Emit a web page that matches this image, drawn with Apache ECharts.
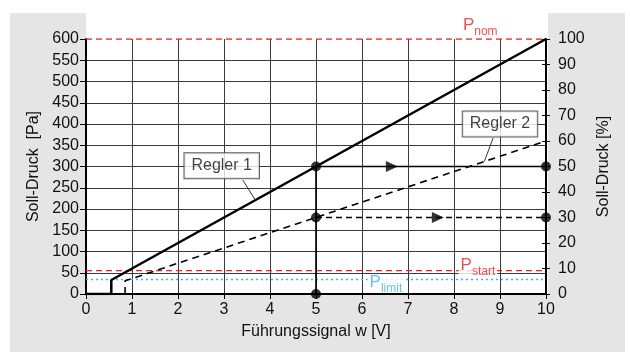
<!DOCTYPE html>
<html>
<head>
<meta charset="utf-8">
<script src="https://cdn.jsdelivr.net/npm/echarts@6/dist/echarts.min.js"></script>
<style>
  html, body { margin: 0; padding: 0; background: #ffffff; }
  #frame { position: absolute; left: 10px; top: 13px; width: 615px; height: 339px; background: #e5e5e5; }
  #plotbg { position: absolute; left: 86px; top: 13px; width: 462px; height: 281px; background: #ffffff; }
  #chart { position: absolute; left: 0; top: 0; width: 630px; height: 352px; }
</style>
</head>
<body>
<div id="frame"></div>
<div id="plotbg"></div>
<div id="chart"></div>
<script>
// Setpoint pressure vs. control signal for two controllers
const xTicks = [0, 1, 2, 3, 4, 5, 6, 7, 8, 9, 10];          // control signal w [V]
const regler1 = [[0, 0], [0.55, 0], [0.55, 33], [10, 600]];   // Pa
const regler2 = [[0.85, 0], [0.85, 31], [10, 360]];           // Pa
const pNom = 600, pStart = 55, pLimit = 34;                    // Pa
const workPoints = [[5, 0], [5, 180], [5, 300], [10, 180], [10, 300]];
const arrow1 = [[6.65, 300]], arrow2 = [[7.65, 180]];
const vLine = [[5, 0], [5, 300]];
const hLine1 = [[5, 300], [10, 300]];
const hLine2 = [[5, 180], [10, 180]];

const FONT = '"Liberation Sans", Arial, sans-serif';
const RED = '#e8232e', CYAN = '#3db4e6', INK = '#111111';

function lineSeries(data, color, width, type, z) {
  return { type: 'line', data: data, symbol: 'none', silent: true, z: z || 3,
    lineStyle: { color: color, width: width, type: type || 'solid' }, animation: false };
}

const chart = echarts.init(document.getElementById('chart'), null, { renderer: 'canvas' });
chart.setOption({
  backgroundColor: 'transparent',
  animation: false,
  textStyle: { fontFamily: FONT },
  grid: { left: 86, right: 84, top: 39, bottom: 58 },
  xAxis: {
    type: 'value', min: 0, max: 10, interval: 1,
    name: 'Führungssignal w [V]', nameLocation: 'middle', nameGap: 30,
    nameTextStyle: { fontSize: 16, color: INK, fontFamily: FONT },
    axisLine: { lineStyle: { color: '#000', width: 2 } },
    axisTick: { show: true, length: 5, lineStyle: { color: '#000', width: 1 } },
    axisLabel: { fontSize: 16, color: INK, margin: 8, fontFamily: FONT },
    splitLine: { show: true, showMinLine: false, showMaxLine: false, lineStyle: { color: '#3a3a3a', width: 1 } }
  },
  yAxis: [
    {
      type: 'value', min: 0, max: 600, interval: 50, position: 'left',
      name: 'Soll-Druck  [Pa]', nameLocation: 'middle', nameGap: 44, nameRotate: 90,
      nameTextStyle: { fontSize: 16, color: INK, fontFamily: FONT },
      axisLine: { show: true, lineStyle: { color: '#000', width: 2 } },
      axisTick: { show: true, length: 6, lineStyle: { color: '#000', width: 1 } },
      axisLabel: { fontSize: 16, color: INK, margin: 7, fontFamily: FONT },
      splitLine: { show: true, showMinLine: false, showMaxLine: false, lineStyle: { color: '#3a3a3a', width: 1 } }
    },
    {
      type: 'value', min: 0, max: 100, interval: 10, position: 'right',
      name: 'Soll-Druck [%]', nameLocation: 'middle', nameGap: 44, nameRotate: 90,
      nameTextStyle: { fontSize: 16, color: INK, fontFamily: FONT },
      axisLine: { show: true, lineStyle: { color: '#000', width: 2 } },
      axisTick: { show: true, length: 4, lineStyle: { color: '#000', width: 1 } },
      axisLabel: { fontSize: 16, color: INK, margin: 12, fontFamily: FONT },
      splitLine: { show: false }
    },
    {
      type: 'value', min: 0, max: 100, interval: 10, position: 'right',
      axisLine: { show: false },
      axisTick: { show: true, inside: true, length: 4, lineStyle: { color: '#000', width: 1 } },
      axisLabel: { show: false },
      splitLine: { show: false }
    }
  ],
  series: [
    // reference pressures
    lineSeries([[0, pNom], [10, pNom]], RED, 1.6, [6, 4], 2),
    lineSeries([[0, pStart], [10, pStart]], RED, 1.3, [6, 4], 2),
    lineSeries([[0, pLimit], [10, pLimit]], CYAN, 1.5, [2, 3], 2),
    // controller characteristics
    lineSeries(regler1, '#000', 2.5, 'solid', 5),
    lineSeries(regler2, '#000', 1.6, [7, 5], 5),
    // operating point guides
    lineSeries(vLine, '#000', 1.6, 'solid', 4),
    lineSeries(hLine1, '#000', 1.6, 'solid', 4),
    lineSeries(hLine2, '#000', 1.4, [6, 4], 4),
    {
      type: 'scatter', data: workPoints, symbol: 'circle', symbolSize: 10, z: 6,
      itemStyle: { color: '#000' }, silent: true
    },
    {
      type: 'scatter', data: arrow1.concat(arrow2), symbol: 'triangle', symbolSize: [11, 12],
      symbolRotate: -90, z: 6, itemStyle: { color: '#000' }, silent: true
    },
    // leader lines for the callouts
    lineSeries([[3.41, 268], [3.68, 221]], '#333', 1, 'solid', 6),
    lineSeries([[8.85, 367], [8.66, 312]], '#333', 1, 'solid', 6),
    // callouts and reference labels
    {
      type: 'scatter', symbolSize: 0, z: 10, silent: true,
      data: [
        { value: [2.95, 302], label: { formatter: 'Regler 1' } },
        { value: [9.0, 400], label: { formatter: 'Regler 2' } }
      ],
      label: {
        show: true, position: 'inside', fontSize: 16, color: INK, fontFamily: FONT,
        backgroundColor: '#fff', borderColor: '#333', borderWidth: 1,
        padding: [5, 7, 4, 7]
      }
    },
    {
      type: 'scatter', symbolSize: 0, z: 10, silent: true,
      data: [
        { value: [8.57, pNom], label: { formatter: '{p|P}{s|nom}', position: 'top', distance: 5, backgroundColor: 'transparent' } },
        { value: [8.52, pStart], label: { formatter: '{p|P}{s|start}', offset: [0, -5] } },
        { value: [6.52, pLimit], label: { formatter: '{c|P}{d|limit}', offset: [0, 3] } }
      ],
      label: {
        show: true, position: 'inside', backgroundColor: '#fff', padding: [0, 2],
        rich: {
          p: { fontSize: 17, color: RED, fontFamily: FONT, verticalAlign: 'bottom' },
          s: { fontSize: 12, color: RED, fontFamily: FONT, verticalAlign: 'bottom', padding: [0, 0, -4, 0] },
          c: { fontSize: 17, color: CYAN, fontFamily: FONT, verticalAlign: 'bottom' },
          d: { fontSize: 12, color: CYAN, fontFamily: FONT, verticalAlign: 'bottom', padding: [0, 0, -4, 0] }
        }
      }
    }
  ]
});
</script>
</body>
</html>
